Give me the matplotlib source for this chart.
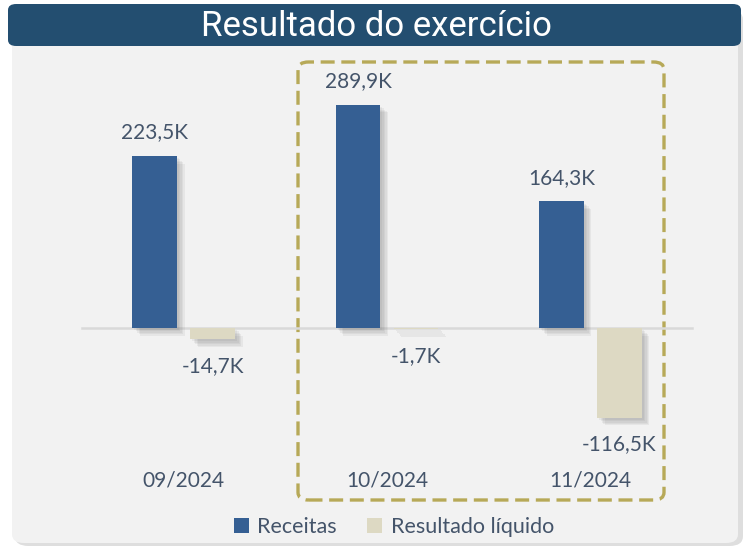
import matplotlib.pyplot as plt
import matplotlib.patheffects as pe
from matplotlib.patches import FancyBboxPatch, Patch
import numpy as np

meses = ['09/2024', '10/2024', '11/2024']
receitas = [223.5, 289.9, 164.3]
resultado = [-14.7, -1.7, -116.5]
rotulos_receitas = ['223,5K', '289,9K', '164,3K']
rotulos_resultado = ['-14,7K', '-1,7K', '-116,5K']

W, H = 749, 546
azul = '#355F93'
bege = '#DDD9C3'
texto = '#44546A'
oliva = '#B7A958'

plt.rcParams['font.family'] = ['Lato', 'DejaVu Sans']

fig = plt.figure(figsize=(W / 100, H / 100), dpi=100)
fig.patch.set_facecolor('white')


def fx(x):
    return x / W


def fy(y):
    return 1 - y / H


# card background with a light shadow
sombra = FancyBboxPatch((fx(15), fy(546)), fx(728), fy(10) - fy(546),
                        boxstyle='round,pad=0,rounding_size=0.018',
                        transform=fig.transFigure, facecolor='#C8C8C8',
                        edgecolor='none', alpha=0.6, zorder=0)
fig.patches.append(sombra)
card = FancyBboxPatch((fx(12), fy(543)), fx(726), fy(8) - fy(543),
                      boxstyle='round,pad=0,rounding_size=0.016',
                      transform=fig.transFigure, facecolor='#F2F2F2',
                      edgecolor='none', zorder=1)
fig.patches.append(card)

# title bar
barra = FancyBboxPatch((fx(8), fy(46)), fx(733), fy(4) - fy(46),
                       boxstyle='round,pad=0,rounding_size=0.011',
                       transform=fig.transFigure, facecolor='#234E70',
                       edgecolor='none', zorder=2)
fig.patches.append(barra)
fig.text(fx(376), fy(26), 'Resultado do exercício', color='white',
         fontsize=25, family=['Roboto', 'DejaVu Sans'],
         ha='center', va='center', zorder=3)

# dashed highlight box
caixa = FancyBboxPatch((fx(298), fy(500)), fx(366), fy(62) - fy(500),
                       boxstyle='round,pad=0,rounding_size=0.014',
                       transform=fig.transFigure, facecolor='none',
                       edgecolor=oliva, linewidth=2.4,
                       linestyle=(0, (4.2, 2.0)), zorder=2)
fig.patches.append(caixa)

# chart
ax = fig.add_axes([fx(80), fy(450), fx(610), fy(70) - fy(450)])
ax.set_facecolor('none')
ax.set_zorder(3)
escala = 0.77
ax.set_xlim(-0.51, 2.49)
ax.set_ylim(-(450 - 328) / escala, (328 - 70) / escala)

x = np.arange(len(meses))
larg = 0.22
desl = 0.143
# soft blurred shadow: several faint offset copies
sombra_barra = [pe.SimplePatchShadow(offset=(d, -d), shadow_rgbFace='#555555', alpha=0.07)
                for d in (1.5, 2.5, 3.5, 4.5, 5.5)] + [pe.Normal()]

ax.plot([-0.5, 2.5], [0, 0], color='#D9D9D9', linewidth=1.8, zorder=1, clip_on=False)
b1 = ax.bar(x - desl, receitas, larg, color=azul, zorder=2)
b2 = ax.bar(x + desl, resultado, larg, color=bege, zorder=2)
for b in list(b1) + list(b2):
    b.set_path_effects(sombra_barra)

for xi, v, r in zip(x, receitas, rotulos_receitas):
    ax.annotate(r, (xi - desl, v), xytext=(0, 17), textcoords='offset points',
                ha='center', va='center', color=texto, fontsize=15)
for xi, v, r in zip(x, resultado, rotulos_resultado):
    ax.annotate(r, (xi + desl, v), xytext=(0, -19), textcoords='offset points',
                ha='center', va='center', color=texto, fontsize=15)

ax.set_xticks(x)
ax.set_xticklabels(meses, color=texto, fontsize=15)
ax.tick_params(axis='x', length=0, pad=15)
ax.set_yticks([])
for s in ax.spines.values():
    s.set_visible(False)

handles = [Patch(facecolor=azul, label='Receitas'),
           Patch(facecolor=bege, label='Resultado líquido')]
leg = fig.legend(handles=handles, loc='center', bbox_to_anchor=(fx(394), fy(527)),
                 ncol=2, frameon=False, fontsize=15.5, handlelength=0.7,
                 handleheight=0.7, handletextpad=0.4, columnspacing=1.4)
for t in leg.get_texts():
    t.set_color(texto)

fig.savefig('out.png', dpi=100)
